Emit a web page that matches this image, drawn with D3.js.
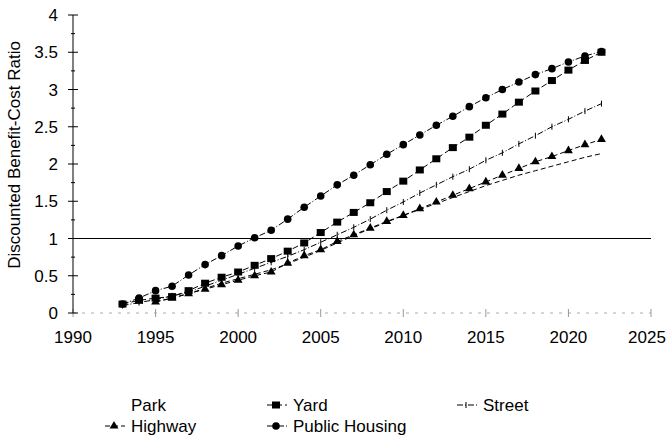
<!DOCTYPE html>
<html><head><meta charset="utf-8">
<script src="https://cdn.jsdelivr.net/npm/d3@7"></script>
<style>body{margin:0;background:#fff}svg{display:block}text{font-family:"Liberation Sans",Arial,sans-serif;fill:#000}</style>
</head><body><svg id="c" width="668" height="445"></svg>
<script>
const yearsPH = d3.range(1993, 2023);
const publicHousing = [0.12,0.2,0.3,0.36,0.51,0.65,0.77,0.9,1.01,1.11,1.26,1.42,1.57,1.72,1.85,1.99,2.13,2.26,2.39,2.52,2.64,2.77,2.89,3.0,3.1,3.2,3.28,3.37,3.45,3.51];
const yearsYard = d3.range(1993, 2023);
const yard = [0.12,0.17,0.2,0.22,0.3,0.4,0.48,0.55,0.64,0.73,0.83,0.94,1.08,1.22,1.35,1.48,1.63,1.77,1.92,2.07,2.22,2.36,2.52,2.67,2.83,2.98,3.12,3.26,3.39,3.5];
const yearsStreet = d3.range(1993, 2023);
const street = [0.1,0.14,0.18,0.23,0.28,0.36,0.44,0.52,0.6,0.68,0.76,0.85,0.95,1.05,1.15,1.26,1.38,1.49,1.61,1.72,1.83,1.93,2.05,2.15,2.27,2.38,2.5,2.6,2.71,2.81];
const yearsHwy = d3.range(1995, 2023);
const highway = [0.15,0.2,0.26,0.32,0.38,0.44,0.5,0.55,0.67,0.77,0.85,0.96,1.05,1.14,1.23,1.31,1.4,1.49,1.58,1.67,1.76,1.85,1.94,2.03,2.1,2.18,2.26,2.33];
const yearsPark = d3.range(1995, 2023);
const park = [0.15,0.2,0.26,0.33,0.4,0.46,0.52,0.58,0.66,0.75,0.84,0.94,1.04,1.13,1.22,1.31,1.39,1.47,1.55,1.63,1.71,1.78,1.85,1.91,1.97,2.03,2.09,2.14];
const xTicks = [1990,1995,2000,2005,2010,2015,2020,2025];
const yTicks = [0,0.5,1,1.5,2,2.5,3,3.5,4];
const yTickLabels = ["0","0.5","1","1.5","2","2.5","3","3.5","4"];
const yTitle = "Discounted Benefit-Cost Ratio";
const referenceValue = 1;

const svg = d3.select("#c");
const x = d3.scaleLinear().domain([1990, 2025]).range([73, 651]);
const y = d3.scaleLinear().domain([0, 4]).range([313, 15]);
const FS = 17;

// x axis (faint)
svg.append("line").attr("x1", x(1990)).attr("x2", x(2025)).attr("y1", y(0)).attr("y2", y(0))
  .attr("stroke", "#aaa").attr("stroke-width", 1).attr("stroke-dasharray", "3,6");
svg.selectAll(".xt").data(xTicks).join("line").attr("x1", d => x(d)).attr("x2", d => x(d))
  .attr("y1", y(0) - 4).attr("y2", y(0) + 4).attr("stroke", "#999");
svg.selectAll(".xl").data(xTicks).join("text").attr("x", d => Math.min(x(d), 647)).attr("y", y(0) + 30)
  .attr("text-anchor", "middle").attr("font-size", FS).text(d => d);

// y axis
svg.append("line").attr("x1", x(1990)).attr("x2", x(1990)).attr("y1", y(4)).attr("y2", y(0)).attr("stroke", "#000");
svg.selectAll(".yt").data(yTicks).join("line").attr("x1", x(1990) - 5).attr("x2", x(1990) + 5)
  .attr("y1", d => y(d)).attr("y2", d => y(d)).attr("stroke", "#000");
svg.selectAll(".ym").data(d3.range(0.25, 4, 0.5)).join("line").attr("x1", x(1990) - 2).attr("x2", x(1990) + 2)
  .attr("y1", d => y(d)).attr("y2", d => y(d)).attr("stroke", "#000");
svg.selectAll(".yl").data(yTicks).join("text").attr("x", x(1990) - 15).attr("y", d => y(d) + 6)
  .attr("text-anchor", "end").attr("font-size", FS).text((d, i) => yTickLabels[i]);
svg.append("text").attr("transform", `translate(20,155) rotate(-90)`)
  .attr("text-anchor", "middle").attr("font-size", FS).text(yTitle);

// reference line
svg.append("line").attr("x1", x(1990)).attr("x2", x(2025)).attr("y1", y(referenceValue)).attr("y2", y(referenceValue))
  .attr("stroke", "#000").attr("stroke-width", 1);

const line = d3.line().x(d => x(d[0])).y(d => y(d[1]));
const series = [
  {name: "Park", years: yearsPark, vals: park, dash: "5,3", marker: "none"},
  {name: "Highway", years: yearsHwy, vals: highway, dash: "5,3", marker: "triangle"},
  {name: "Street", years: yearsStreet, vals: street, dash: "6,2,1,2", marker: "tick"},
  {name: "Yard", years: yearsYard, vals: yard, dash: "6,3", marker: "square"},
  {name: "Public Housing", years: yearsPH, vals: publicHousing, dash: "6,2,1,2", marker: "circle"}
];

function drawMarker(g, type, cx, cy) {
  if (type === "square") g.append("rect").attr("x", cx - 4).attr("y", cy - 3.5).attr("width", 8).attr("height", 7).attr("fill", "#000");
  else if (type === "circle") g.append("circle").attr("cx", cx).attr("cy", cy).attr("r", 3.8).attr("fill", "#000");
  else if (type === "triangle") g.append("path").attr("d", d3.symbol(d3.symbolTriangle, 34)()).attr("transform", `translate(${cx},${cy})`).attr("fill", "#000");
  else if (type === "tick") g.append("line").attr("x1", cx).attr("x2", cx).attr("y1", cy - 3).attr("y2", cy + 3).attr("stroke", "#000").attr("stroke-width", 1);
}

series.forEach(s => {
  const pts = s.years.map((yr, i) => [yr, s.vals[i]]);
  svg.append("path").datum(pts).attr("d", line).attr("fill", "none").attr("stroke", "#000")
    .attr("stroke-width", 1).attr("stroke-dasharray", s.dash);
  const g = svg.append("g");
  if (s.marker !== "none") pts.forEach(p => drawMarker(g, s.marker, x(p[0]), y(p[1])));
});

// legend
const legendItems = [
  {name: "Park", col: 0, row: 0}, {name: "Yard", col: 1, row: 0}, {name: "Street", col: 2, row: 0},
  {name: "Highway", col: 0, row: 1}, {name: "Public Housing", col: 1, row: 1}
];
const colX = [131, 293, 483];
const rowY = [411, 432];
legendItems.forEach(it => {
  const s = series.find(d => d.name === it.name);
  const tx = colX[it.col], ty = rowY[it.row];
  const g = svg.append("g");
  if (s.marker !== "none") {
    g.append("line").attr("x1", tx - 26).attr("x2", tx - 6).attr("y1", ty - 6).attr("y2", ty - 6)
      .attr("stroke", "#000").attr("stroke-dasharray", s.dash);
    drawMarker(g, s.marker, tx - 17, ty - 6);
  }
  g.append("text").attr("x", tx).attr("y", ty).attr("font-size", FS).text(s.name);
});
</script></body></html>
